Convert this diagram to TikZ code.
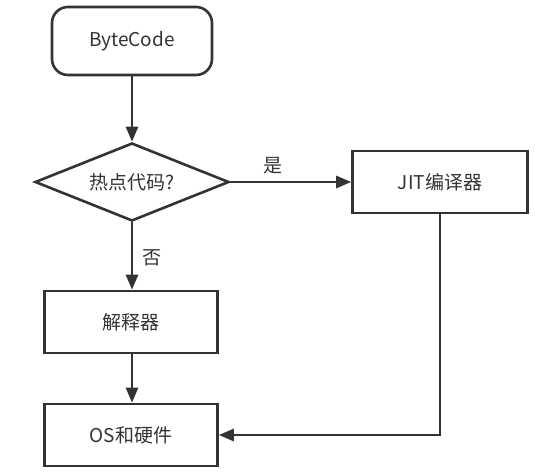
\documentclass[tikz,border=0pt]{standalone}
\usepackage{fontspec}
\setmainfont{Noto Sans CJK SC}
\usetikzlibrary{shapes.geometric, arrows.meta, positioning}
\definecolor{inkgray}{HTML}{333333}

\begin{document}
\begin{tikzpicture}[x=1pt, y=-1pt,
    every node/.style={text=inkgray, font=\fontsize{19}{21}\selectfont},
    box/.style={draw=inkgray, line width=2.6pt, minimum width=173pt, minimum height=62pt},
    flow/.style={-{Triangle[length=15pt, width=12pt]}, line width=2.6pt, draw=inkgray}]
    \useasboundingbox (0,0) rectangle (535,471);

    % start
    \node[box, rounded corners=16pt, minimum width=160pt, minimum height=68pt] (start) at (132,41) {ByteCode};

    % decision
    \node[draw=inkgray, line width=2.6pt, diamond, aspect=2.5, inner sep=1pt,
          minimum width=194pt, minimum height=78pt] (hot) at (132,182) {热点代码?};

    % JIT compiler
    \node[box, minimum width=175pt] (jit) at (440,182) {JIT编译器};

    % interpreter and OS
    \node[box] (interp) at (131,322) {解释器};
    \node[box] (os) at (131,435) {OS和硬件};

    % connectors
    \draw[flow] (start.south) -- (hot.north);
    \draw[flow] (hot.east) -- node[above, pos=0.35, yshift=3pt] {是} (jit.west);
    \draw[flow] (hot.south) -- node[right, xshift=6pt, yshift=-2pt] {否} (hot.south |- interp.north);
    \draw[flow] (interp.south -| hot.south) -- (hot.south |- os.north);
    \draw[flow] (jit.south) |- (os.east);
\end{tikzpicture}
\end{document}
